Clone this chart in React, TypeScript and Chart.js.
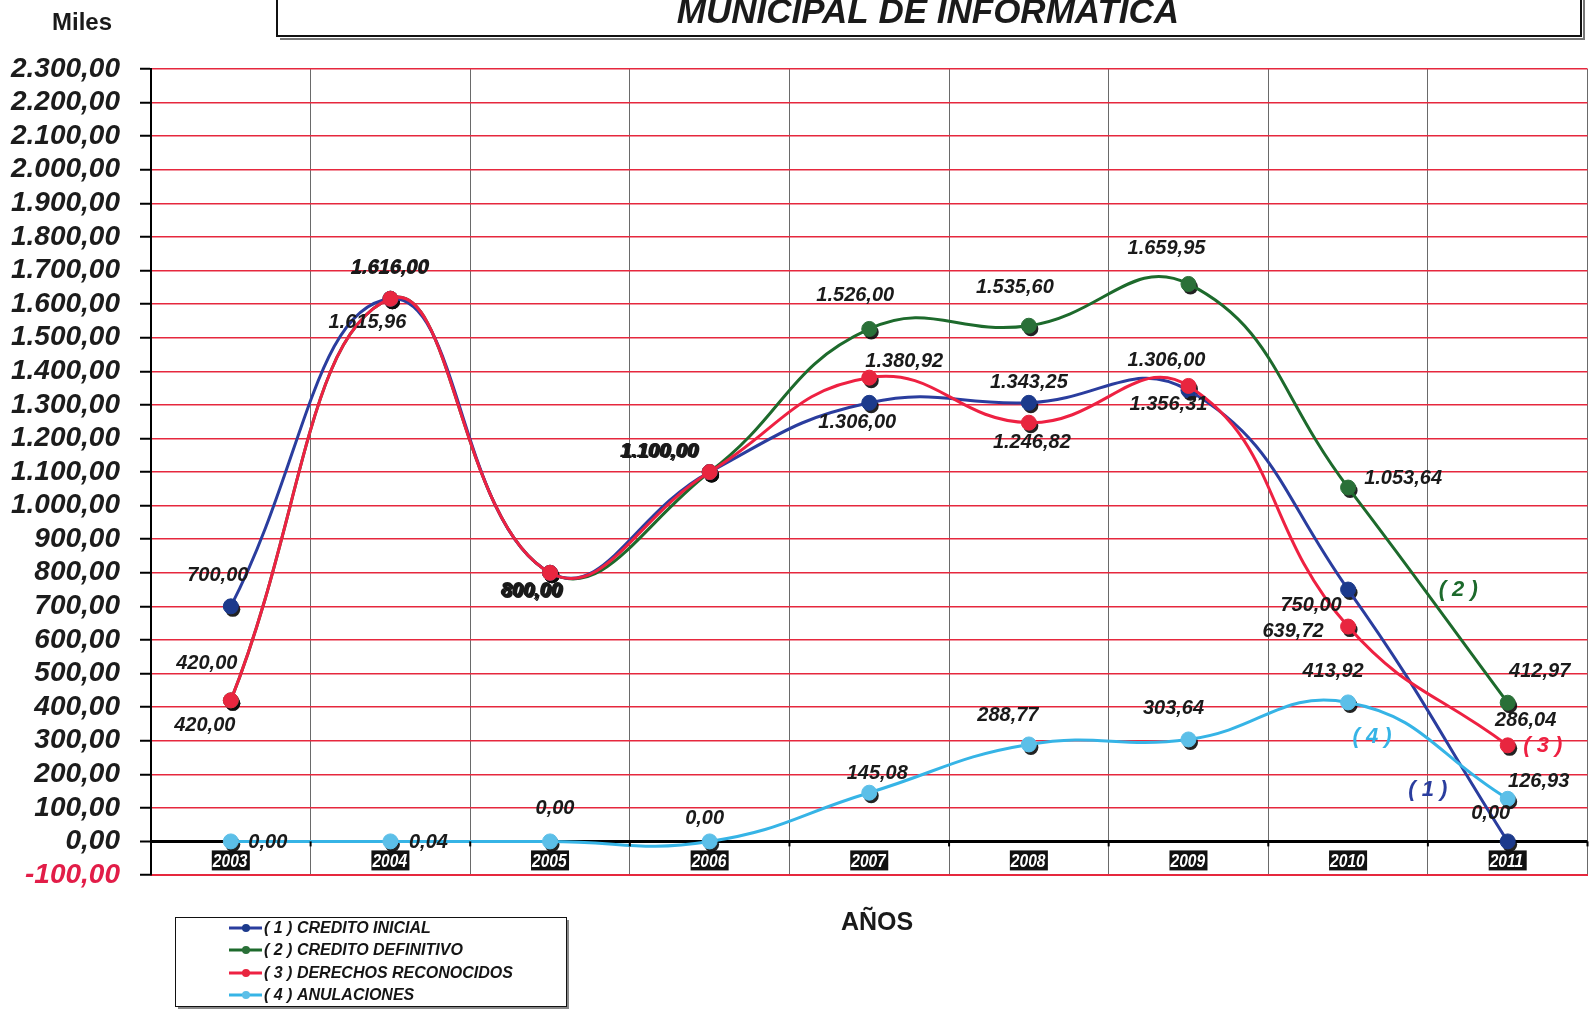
import React, { useEffect, useRef } from 'react';
import { Chart, registerables } from 'chart.js';

Chart.register(...registerables);

// ---------- DATA ----------
const years = ['2003', '2004', '2005', '2006', '2007', '2008', '2009', '2010', '2011'];
const creditoInicial = [700, 1615.96, 800, 1100, 1306, 1306, 1343.25, 750, 0];
const creditoDefinitivo = [420, 1616, 800, 1100, 1526, 1535.6, 1659.95, 1053.64, 412.97];
const derechosReconocidos = [420, 1616, 800, 1100, 1380.92, 1246.82, 1356.31, 639.72, 286.04];
const anulaciones = [0, 0.04, 0, 0, 145.08, 288.77, 303.64, 413.92, 126.93];

// label texts as printed on the chart
const inicialLabels = ['700,00', '1.615,96', '800,00', '1.100,00', '1.306,00', '1.343,25', '1.306,00', '750,00', '0,00'];
const definitivoLabels = ['420,00', '1.616,00', '800,00', '1.100,00', '1.526,00', '1.535,60', '1.659,95', '1.053,64', '412,97'];
const derechosLabels = ['420,00', '1.616,00', '800,00', '1.100,00', '1.380,92', '1.246,82', '1.356,31', '639,72', '286,04'];
const anulacionesLabels = ['0,00', '0,04', '0,00', '0,00', '145,08', '288,77', '303,64', '413,92', '126,93'];

const seriesNames = ['( 1 ) CREDITO INICIAL', '( 2 ) CREDITO DEFINITIVO', '( 3 ) DERECHOS RECONOCIDOS', '( 4 ) ANULACIONES'];
const seriesTags = ['( 1 )', '( 2 )', '( 3 )', '( 4 )'];

const yMin = -100;
const yMax = 2300;
const yStep = 100;

// ---------- STYLE ----------
const lineColors = ['#2a3d9e', '#1d6a2c', '#ee2142', '#36b4e6'];
const pointColors = ['#1c3a8c', '#2a7038', '#e8263f', '#5cbfe8'];
const gridRed = '#e6283e';

// label offsets (px) relative to the point
const labelOffsets = [
  [[-13, -31], [-23, 24], [-18, 19], [-50, -21], [-12, 20], [0, -20], [-22, -30], [-37, 16], [-17, -28]],
  [[-24, -37], [-1, -30], [-17, 20], [-49, -20], [-14, -33], [-14, -38], [-22, -35], [55, -9], [32, -31]],
  [[-26, 25], [0, -31], [-19, 18], [-51, -21], [35, -16], [3, 20], [-20, 19], [-55, 5], [18, -25]],
  [[37, 1], [38, 1], [5, -33], [-5, -23], [8, -19], [-21, -29], [-15, -31], [-15, -31], [31, -17]],
];
const allLabels = [inicialLabels, definitivoLabels, derechosLabels, anulacionesLabels];

// series tag positions in data coordinates (category index, value)
const tagPositions = [[7.5, 154], [7.69, 748], [8.22, 285], [7.15, 312]];

const fmt = (v: number) => {
  const neg = v < 0;
  const [i, d] = Math.abs(v).toFixed(2).split('.');
  const g = i.replace(/\B(?=(\d{3})+(?!\d))/g, '.');
  return (neg ? '-' : '') + g + ',' + d;
};

const FONT = '"Liberation Sans", Arial, sans-serif';

const decorPlugin = {
  id: 'decor',
  beforeDatasetsDraw(chart: any) {
    const ctx = chart.ctx;
    ctx.save();
    chart.data.datasets.forEach((_ds: any, di: number) => {
      const meta = chart.getDatasetMeta(di);
      meta.data.forEach((pt: any) => {
        ctx.beginPath();
        ctx.arc(pt.x + 2, pt.y + 3, 7.5, 0, Math.PI * 2);
        ctx.fillStyle = 'rgba(10,10,10,0.9)';
        ctx.fill();
      });
    });
    ctx.restore();
  },
  afterDraw(chart: any) {
    const ctx = chart.ctx;
    const xs = chart.scales.x;
    const ys = chart.scales.y;
    ctx.save();

    // small ticks on zero line
    const y0 = ys.getPixelForValue(0);
    ctx.strokeStyle = '#000';
    ctx.lineWidth = 2;
    for (let i = 0; i <= years.length; i++) {
      const x = xs.getPixelForValue(i - 0.5);
      ctx.beginPath();
      ctx.moveTo(x, y0);
      ctx.lineTo(x, y0 + 5);
      ctx.stroke();
    }

    // data labels
    ctx.font = `italic bold 20px ${FONT}`;
    ctx.fillStyle = '#1a1a1a';
    ctx.textAlign = 'center';
    ctx.textBaseline = 'middle';
    allLabels.forEach((labels, si) => {
      const meta = chart.getDatasetMeta(si);
      meta.data.forEach((pt: any, i: number) => {
        const [dx, dy] = labelOffsets[si][i];
        ctx.fillText(labels[i], pt.x + dx, pt.y + dy);
      });
    });

    // series tags
    ctx.font = `italic bold 22px ${FONT}`;
    tagPositions.forEach(([xv, yv], si) => {
      ctx.fillStyle = lineColors[si];
      ctx.fillText(seriesTags[si], xs.getPixelForValue(xv), ys.getPixelForValue(yv));
    });

    // year boxes
    ctx.font = `italic bold 19px ${FONT}`;
    years.forEach((yr, i) => {
      const cx = xs.getPixelForValue(i);
      const bx = cx - 19;
      const by = y0 + 9;
      ctx.fillStyle = '#111';
      ctx.fillRect(bx, by, 38, 20);
      ctx.save();
      ctx.beginPath();
      ctx.rect(bx, by, 36, 20);
      ctx.clip();
      ctx.fillStyle = '#fff';
      ctx.textAlign = 'left';
      ctx.translate(bx + 1, by + 11);
      ctx.scale(0.82, 1);
      ctx.fillText(yr, 0, 0);
      ctx.restore();
    });

    // title box
    ctx.strokeStyle = '#777';
    ctx.lineWidth = 2;
    ctx.beginPath();
    ctx.moveTo(280, 39);
    ctx.lineTo(1584, 39);
    ctx.lineTo(1584, 0);
    ctx.stroke();
    ctx.strokeStyle = '#111';
    ctx.lineWidth = 2;
    ctx.beginPath();
    ctx.moveTo(277, 0);
    ctx.lineTo(277, 36);
    ctx.lineTo(1581, 36);
    ctx.lineTo(1581, 0);
    ctx.stroke();
    ctx.fillStyle = '#1a1a1a';
    ctx.textAlign = 'center';
    ctx.textBaseline = 'alphabetic';
    ctx.font = `italic bold 35px ${FONT}`;
    ctx.fillText('MUNICIPAL DE INFORMATICA', 928, 23);

    // Miles
    ctx.font = `bold 24px ${FONT}`;
    ctx.fillText('Miles', 82, 30);

    // AÑOS
    ctx.font = `bold 25px ${FONT}`;
    ctx.fillText('AÑOS', 877, 930);

    // legend
    ctx.strokeStyle = '#888';
    ctx.lineWidth = 2;
    ctx.beginPath();
    ctx.moveTo(178, 1008);
    ctx.lineTo(568, 1008);
    ctx.lineTo(568, 920);
    ctx.stroke();
    ctx.strokeStyle = '#111';
    ctx.lineWidth = 1;
    ctx.strokeRect(175.5, 917.5, 391, 89);
    const rows = [928, 950, 973, 995];
    ctx.font = `italic bold 16px ${FONT}`;
    ctx.textAlign = 'left';
    ctx.textBaseline = 'middle';
    seriesNames.forEach((name, si) => {
      const ry = rows[si];
      ctx.strokeStyle = lineColors[si];
      ctx.lineWidth = 3;
      ctx.beginPath();
      ctx.moveTo(229, ry);
      ctx.lineTo(262, ry);
      ctx.stroke();
      ctx.beginPath();
      ctx.arc(246, ry, 4, 0, Math.PI * 2);
      ctx.fillStyle = pointColors[si];
      ctx.fill();
      ctx.fillStyle = '#151515';
      ctx.fillText(name, 264, ry + 1);
    });

    ctx.restore();
  },
};

export default function App() {
  const ref = useRef<HTMLCanvasElement>(null);
  useEffect(() => {
    if (!ref.current) return;
    const seriesData = [creditoInicial, creditoDefinitivo, derechosReconocidos, anulaciones];
    const drawOrder = [3, 4, 2, 1];
    const chart = new Chart(ref.current, {
      type: 'line',
      data: {
        labels: years,
        datasets: seriesData.map((d, i) => ({
          label: seriesNames[i],
          data: d,
          borderColor: lineColors[i],
          backgroundColor: pointColors[i],
          pointBackgroundColor: pointColors[i],
          pointBorderColor: pointColors[i],
          pointRadius: 7.5,
          pointBorderWidth: 1,
          borderWidth: 3,
          tension: 0.45,
          fill: false,
          order: drawOrder[i],
        })),
      },
      options: {
        responsive: false,
        maintainAspectRatio: false,
        animation: false,
        devicePixelRatio: 1,
        layout: { padding: { top: 69, right: 6, bottom: 142, left: 0 } },
        plugins: {
          legend: { display: false },
          tooltip: { enabled: false },
          title: { display: false },
        },
        scales: {
          x: {
            type: 'category',
            offset: true,
            grid: { offset: true, color: '#6a6a6a', lineWidth: 1, drawTicks: false },
            border: { display: true, color: gridRed, width: 2 },
            ticks: { display: false },
            afterFit: (s: any) => { s.height = 0; },
          },
          y: {
            min: yMin,
            max: yMax,
            ticks: {
              stepSize: yStep,
              autoSkip: false,
              padding: 20,
              callback: (v: any) => fmt(Number(v)),
              font: { family: FONT, size: 28, weight: 'bold', style: 'italic' },
              color: (c: any) => (c.tick && c.tick.value === -100 ? '#e21d48' : '#1c1c1c'),
            },
            grid: {
              color: (c: any) => (c.tick && c.tick.value === 0 ? '#000' : gridRed),
              lineWidth: (c: any) => (c.tick && c.tick.value === 0 ? 3 : 1.5),
              tickColor: '#000',
              tickLength: 11,
              tickWidth: 2,
            },
            border: { color: '#000', width: 2 },
            afterFit: (s: any) => { s.width = 151; },
          },
        },
      },
      plugins: [decorPlugin],
    } as any);
    return () => chart.destroy();
  }, []);
  return (
    <div style={{ position: 'fixed', left: 0, top: 0, width: 1596, height: 1017, background: '#fff' }}>
      <canvas ref={ref} width={1596} height={1017} style={{ width: 1596, height: 1017, display: 'block' }} />
    </div>
  );
}
